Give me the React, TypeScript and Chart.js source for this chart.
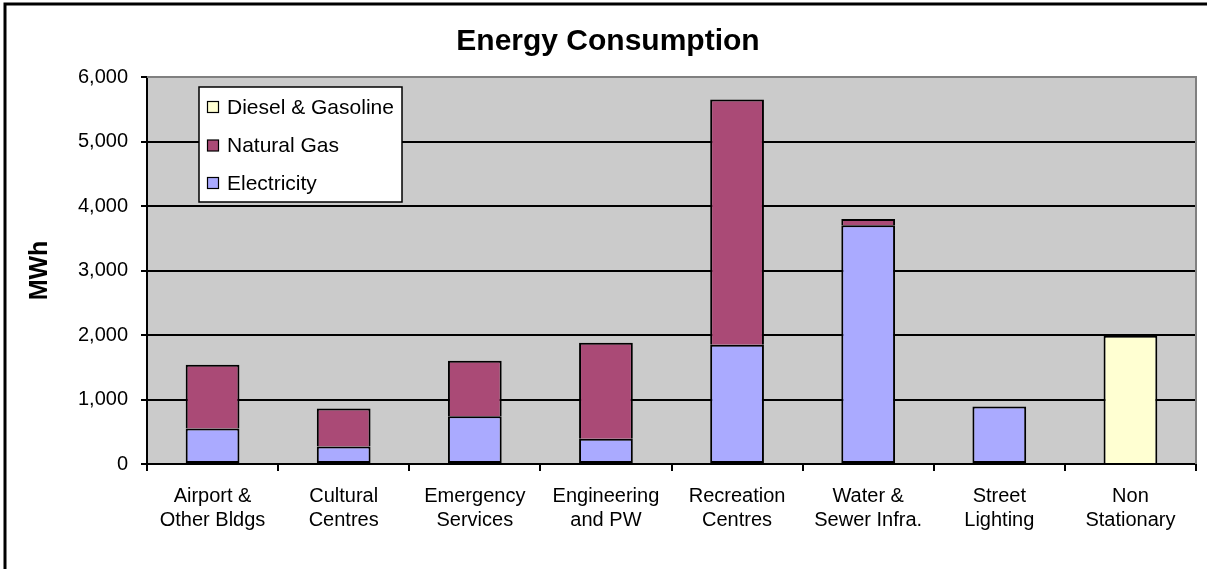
import React, { useEffect, useRef } from "react";
import { Chart, registerables } from "chart.js";

Chart.register(...registerables);

const categories: string[][] = [
  ["Airport &", "Other Bldgs"],
  ["Cultural", "Centres"],
  ["Emergency", "Services"],
  ["Engineering", "and PW"],
  ["Recreation", "Centres"],
  ["Water &", "Sewer Infra."],
  ["Street", "Lighting"],
  ["Non", "Stationary"],
];

const electricity: (number | null)[] = [550, 270, 740, 390, 1850, 3700, 890, null];
const naturalGas: (number | null)[] = [990, 590, 860, 1490, 3800, 100, null, null];
const dieselGasoline: (number | null)[] = [null, null, null, null, null, null, null, 1990];

const FONT = "'Liberation Sans', Arial, sans-serif";

const frameAndBackground = {
  id: "frameAndBackground",
  beforeDraw(chart: any) {
    const { ctx, chartArea, width, height } = chart;
    ctx.save();
    ctx.fillStyle = "#ffffff";
    ctx.fillRect(0, 0, width, height);
    ctx.fillStyle = "#cbcbcb";
    ctx.fillRect(chartArea.left, chartArea.top, chartArea.right - chartArea.left, chartArea.bottom - chartArea.top);
    ctx.strokeStyle = "#000000";
    ctx.lineWidth = 3;
    ctx.beginPath();
    ctx.moveTo(5, height);
    ctx.lineTo(5, 4);
    ctx.lineTo(width, 4);
    ctx.stroke();
    ctx.restore();
  },
  beforeDatasetsDraw(chart: any) {
    const { ctx, chartArea } = chart;
    ctx.save();
    ctx.strokeStyle = "#808080";
    ctx.lineWidth = 2;
    ctx.beginPath();
    ctx.moveTo(chartArea.left, chartArea.top);
    ctx.lineTo(chartArea.right, chartArea.top);
    ctx.lineTo(chartArea.right, chartArea.bottom);
    ctx.stroke();
    ctx.restore();
  },
};

const boxLegend = {
  id: "boxLegend",
  afterDatasetsDraw(chart: any) {
    const { ctx, chartArea } = chart;
    const x = chartArea.left + 52;
    const y = chartArea.top + 10;
    const w = 203;
    const h = 115;
    ctx.save();
    ctx.fillStyle = "#ffffff";
    ctx.fillRect(x, y, w, h);
    ctx.strokeStyle = "#000000";
    ctx.lineWidth = 1.5;
    ctx.strokeRect(x, y, w, h);
    const ds = [...chart.data.datasets].reverse();
    const rows = [20, 58.5, 96];
    ctx.font = `21px ${FONT}`;
    ctx.textBaseline = "middle";
    ctx.textAlign = "left";
    ds.forEach((d: any, i: number) => {
      const cy = y + rows[i];
      ctx.fillStyle = d.backgroundColor;
      ctx.fillRect(x + 8.5, cy - 5.5, 11, 11);
      ctx.strokeStyle = "#000000";
      ctx.lineWidth = 1.2;
      ctx.strokeRect(x + 8.5, cy - 5.5, 11, 11);
      ctx.fillStyle = "#000000";
      ctx.fillText(d.label, x + 28, cy + 1);
    });
    ctx.restore();
  },
};

export default function App() {
  const canvasRef = useRef<HTMLCanvasElement | null>(null);

  useEffect(() => {
    document.body.style.margin = "0";
    const canvas = canvasRef.current;
    if (!canvas) return;
    const barCommon = {
      borderColor: "#000000",
      borderWidth: 2,
      categoryPercentage: 1,
      barPercentage: 0.41,
    };
    const chart = new Chart(canvas, {
      type: "bar",
      data: {
        labels: categories,
        datasets: [
          { label: "Electricity", data: electricity, backgroundColor: "#aaaaff", borderSkipped: false, ...barCommon },
          { label: "Natural Gas", data: naturalGas, backgroundColor: "#aa4a76", borderSkipped: "bottom", ...barCommon },
          { label: "Diesel & Gasoline", data: dieselGasoline, backgroundColor: "#ffffd2", borderSkipped: "bottom", ...barCommon },
        ],
      },
      options: {
        responsive: true,
        maintainAspectRatio: false,
        animation: false,
        layout: { padding: { left: 20, right: 11, top: 0, bottom: 0 } },
        plugins: {
          legend: { display: false },
          tooltip: { enabled: false },
          title: {
            display: true,
            text: "Energy Consumption",
            color: "#000000",
            font: { family: FONT, size: 30, weight: "bold", lineHeight: 1.2 },
            padding: { top: 24, bottom: 17 },
          },
        },
        scales: {
          x: {
            stacked: true,
            offset: true,
            afterFit(scale: any) {
              scale.height = 569 - 464;
            },
            grid: {
              offset: true,
              drawOnChartArea: false,
              color: "#000000",
              tickColor: "#000000",
              tickLength: 7,
              lineWidth: 2,
            },
            border: { color: "#000000", width: 2 },
            ticks: {
              color: "#000000",
              padding: 13,
              maxRotation: 0,
              autoSkip: false,
              font: { family: FONT, size: 20, lineHeight: 1.2 },
            },
          },
          y: {
            stacked: true,
            min: 0,
            max: 6000,
            afterFit(scale: any) {
              scale.width = 127;
            },
            grid: {
              color: (ctx: any) => (ctx.tick && ctx.tick.value === 6000 ? "#808080" : "#000000"),
              tickColor: "#000000",
              tickLength: 6,
              lineWidth: 2,
            },
            border: { color: "#000000", width: 2 },
            ticks: {
              stepSize: 1000,
              color: "#000000",
              padding: 13,
              font: { family: FONT, size: 20 },
              callback: (v: any) => Number(v).toLocaleString("en-US"),
            },
            title: {
              display: true,
              text: "MWh",
              color: "#000000",
              font: { family: FONT, size: 25, weight: "bold", lineHeight: 1.2 },
              padding: { top: 5, bottom: 0 },
            },
          },
        },
      },
      plugins: [frameAndBackground, boxLegend],
    });
    return () => chart.destroy();
  }, []);

  return (
    <div style={{ position: "relative", width: "1207px", height: "569px" }}>
      <canvas ref={canvasRef} />
    </div>
  );
}
